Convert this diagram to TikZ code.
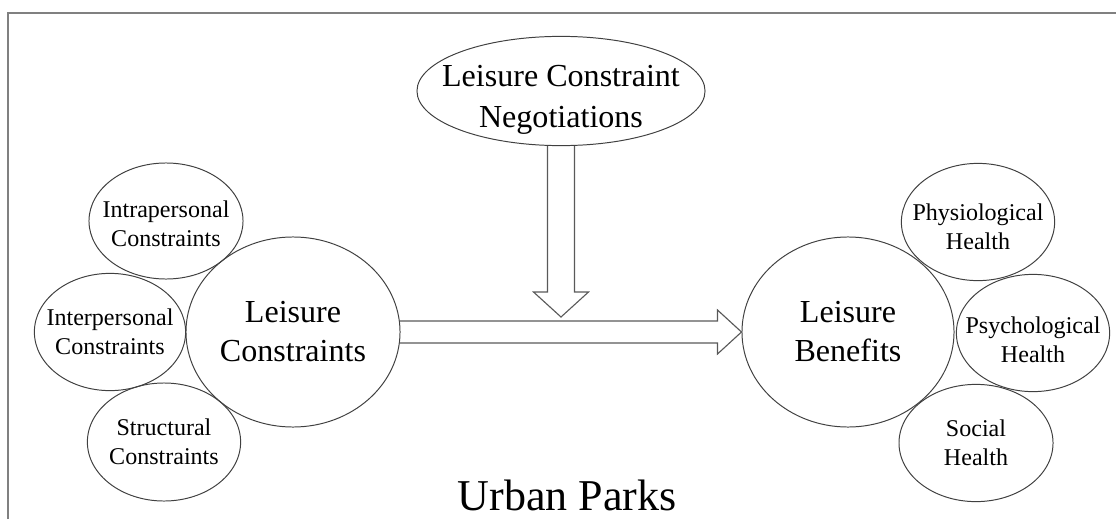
\documentclass[tikz,border=0pt]{standalone}
\usepackage{fontspec}
\setmainfont{Liberation Serif}
\usetikzlibrary{shapes.geometric,calc}
\begin{document}
\begin{tikzpicture}[x=0.025cm,y=-0.025cm,
    bubble/.style={draw=black!75,line width=0.7pt,ellipse,inner sep=0pt},
    smalltxt/.style={align=center,inner sep=0pt,font=\fontsize{17.1}{20.3}\selectfont},
    bigtxt/.style={align=center,inner sep=0pt,font=\fontsize{22.8}{27.7}\selectfont},
    hollow/.style={draw=black!65,line width=0.8pt}]

    \useasboundingbox (0,0) rectangle (1116,519);

    %%frame
    \draw[black!50,line width=1.1pt] (8,519) -- (8,13) -- (1116,13);

    %%negotiations
    \node[bubble,minimum width=7.2cm,minimum height=2.73cm] (neg) at (561,91) {};
    \node[bigtxt,font=\fontsize{22.8}{29.2}\selectfont] (negtxt) at ($(neg)+(0,9)$) {Leisure Constraint\\Negotiations};

    %%constraints
    \node[bubble,minimum width=5.35cm,minimum height=4.75cm] (cons) at (293,332) {};
    \node[bigtxt] (constxt) at (cons) {Leisure\\Constraints};
    \node[bubble,minimum width=3.85cm,minimum height=2.9cm] (intra) at (166,221) {};
    \node[smalltxt] (intratxt) at ($(intra)+(0,3)$) {Intrapersonal\\Constraints};
    \node[bubble,minimum width=3.78cm,minimum height=2.93cm] (inter) at (110,332) {};
    \node[smalltxt] (intertxt) at (inter) {Interpersonal\\Constraints};
    \node[bubble,minimum width=3.83cm,minimum height=2.95cm] (struct) at (164,442) {};
    \node[smalltxt] (structtxt) at (struct) {Structural\\Constraints};

    %%benefits
    \node[bubble,minimum width=5.3cm,minimum height=4.75cm] (bene) at (848,332) {};
    \node[bigtxt] (benetxt) at (bene) {Leisure\\Benefits};
    \node[bubble,minimum width=3.83cm,minimum height=2.93cm] (physio) at (978,222) {};
    \node[smalltxt] (physiotxt) at ($(physio)+(0,5)$) {Physiological\\Health};
    \node[bubble,minimum width=3.83cm,minimum height=2.93cm] (psycho) at (1033,333) {};
    \node[smalltxt] (psychotxt) at ($(psycho)+(0,7)$) {Psychological\\Health};
    \node[bubble,minimum width=3.85cm,minimum height=2.93cm] (social) at (976,443) {};
    \node[smalltxt] (socialtxt) at (social) {Social\\Health};

    %%arrows
    \coordinate (negtip) at (561,317);
    \draw[hollow] ($(neg.south)+(-13.5,0)$) -- ($(negtip)+(-13.5,-25)$) -- ($(negtip)+(-27.5,-25)$)
        -- (negtip) -- ($(negtip)+(27.5,-25)$) -- ($(negtip)+(13.5,-25)$) -- ($(neg.south)+(13.5,0)$);
    \draw[hollow] ($(cons.east)+(-1,-11)$) -- ($(bene.west)+(-24,-11)$) -- ($(bene.west)+(-24,-22)$)
        -- (bene.west) -- ($(bene.west)+(-24,22)$) -- ($(bene.west)+(-24,11)$) -- ($(cons.east)+(-1,11)$);

    \node[inner sep=0pt,anchor=base,font=\fontsize{31.3}{36}\selectfont] (park) at (567,510) {Urban Parks};
\end{tikzpicture}
\end{document}
